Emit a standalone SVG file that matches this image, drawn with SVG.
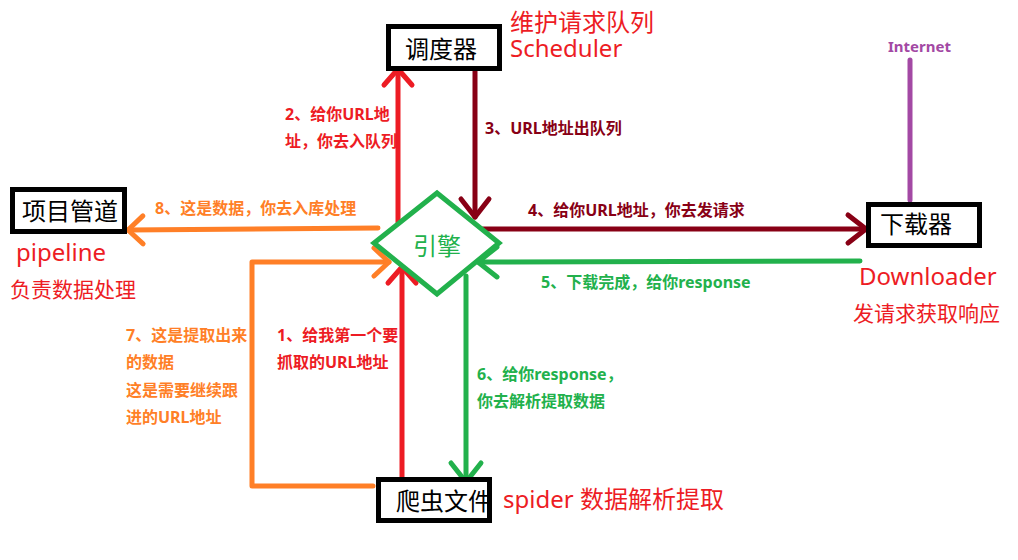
<svg xmlns="http://www.w3.org/2000/svg" width="1018" height="560" viewBox="0 0 1018 560">
<style>
.box{fill:#fff;stroke:#000;stroke-width:5}
.nt{font-family:"Noto Sans","Noto Sans CJK SC",sans-serif;font-size:24px;fill:#000}
.big{font-family:"Noto Sans","Noto Sans CJK SC",sans-serif;font-size:24px;fill:#ED1C24}
.mid{font-family:"Noto Sans","Noto Sans CJK SC",sans-serif;font-size:21px;fill:#ED1C24}
.lb{font-family:"Noto Sans","Noto Sans CJK SC",sans-serif;font-size:16px;font-weight:bold}
.ln{fill:none;stroke-width:5;stroke-linecap:round;stroke-linejoin:round}
.red{stroke:#ED1C24}.dred{stroke:#880015}.org{stroke:#FF7F27}.grn{stroke:#22B14C}.pur{stroke:#A349A4}
.tred{fill:#ED1C24}.tdred{fill:#880015}.torg{fill:#FF7F27}.tgrn{fill:#22B14C}.tpur{fill:#A349A4}
</style>
<defs>
<marker id="aRed" markerUnits="userSpaceOnUse" viewBox="-20 -18 24 36" refX="0" refY="0" markerWidth="24" markerHeight="36" orient="auto" overflow="visible"><path d="M-16,-14 L0,0 L-16,14" fill="none" stroke="#ED1C24" stroke-width="5" stroke-linecap="round" stroke-linejoin="round"/></marker>
<marker id="aDred" markerUnits="userSpaceOnUse" viewBox="-20 -18 24 36" refX="0" refY="0" markerWidth="24" markerHeight="36" orient="auto" overflow="visible"><path d="M-18,-14 L0,0 L-18,14" fill="none" stroke="#880015" stroke-width="5" stroke-linecap="round" stroke-linejoin="round"/></marker>
<marker id="aOrg" markerUnits="userSpaceOnUse" viewBox="-20 -18 24 36" refX="0" refY="0" markerWidth="24" markerHeight="36" orient="auto" overflow="visible"><path d="M-15,-14 L0,0 L-15,14" fill="none" stroke="#FF7F27" stroke-width="5" stroke-linecap="round" stroke-linejoin="round"/></marker>
<marker id="aGrn" markerUnits="userSpaceOnUse" viewBox="-20 -18 24 36" refX="0" refY="0" markerWidth="24" markerHeight="36" orient="auto" overflow="visible"><path d="M-19,-15 L0,0 L-19,15" fill="none" stroke="#22B14C" stroke-width="5" stroke-linecap="round" stroke-linejoin="round"/></marker>
</defs>
<rect width="1018" height="560" fill="#fff"/>

<g id="connectors">
<line class="ln pur" x1="910" y1="60" x2="910" y2="200" stroke-width="4"/>
<line class="ln red" x1="398" y1="222" x2="398" y2="69" marker-end="url(#aRed)"/>
<line class="ln dred" x1="475" y1="70" x2="475" y2="217" marker-end="url(#aDred)"/>
<line class="ln dred" x1="483" y1="229" x2="866" y2="229" marker-end="url(#aDred)"/>
<line class="ln grn" x1="860" y1="261" x2="478" y2="262" marker-end="url(#aGrn)"/>
<line class="ln grn" x1="466" y1="276" x2="466" y2="482" marker-end="url(#aGrn)"/>
<line class="ln red" x1="402" y1="477" x2="402" y2="267" marker-end="url(#aRed)"/>
<line class="ln org" x1="378" y1="228" x2="128" y2="230" marker-end="url(#aOrg)"/>
<polyline class="ln org" points="373,486 252,486 252,262 389,262" marker-end="url(#aOrg)"/>
</g>

<g id="scheduler">
<rect class="box" x="388.5" y="26.5" width="111" height="42"/>
<text class="nt" x="405" y="58">调度器</text>
<text class="big" x="510" y="31">维护请求队列</text>
<text class="big" x="510" y="57">Scheduler</text>
</g>

<g id="pipeline">
<rect class="box" x="12.5" y="189.5" width="112" height="42"/>
<text class="nt" x="22" y="220">项目管道</text>
<text class="big" x="16" y="261">pipeline</text>
<text class="mid" x="10" y="297">负责数据处理</text>
</g>

<g id="engine">
<polygon points="437,193 499,243 437,294 374,243" fill="#fff" stroke="#22B14C" stroke-width="5" stroke-linejoin="miter"/>
<text class="nt" x="437" y="255" text-anchor="middle" fill="#22B14C" style="fill:#22B14C">引擎</text>
</g>

<g id="downloader">
<rect class="box" x="868.5" y="204.5" width="111" height="41"/>
<text class="nt" x="880" y="233">下载器</text>
<text class="big" x="859" y="285">Downloader</text>
<text class="mid" x="853" y="321">发请求获取响应</text>
</g>

<g id="internet">
<text class="lb tpur" x="888" y="52" style="font-size:15px">Internet</text>
</g>

<g id="spider">
<rect class="box" x="378.5" y="479.5" width="111" height="41"/>
<text class="nt" x="396" y="510">爬虫文件</text>
<text class="big" x="503" y="508">spider 数据解析提取</text>
</g>

<g id="labels">
<text class="lb tred" x="285" y="120">2、给你URL地</text>
<text class="lb tred" x="285" y="147">址，你去入队列</text>
<text class="lb tdred" x="485" y="134">3、URL地址出队列</text>
<text class="lb torg" x="155" y="214">8、这是数据，你去入库处理</text>
<text class="lb tdred" x="528" y="216">4、给你URL地址，你去发请求</text>
<text class="lb tgrn" x="541" y="288">5、下载完成，给你response</text>
<text class="lb torg" x="126" y="341">7、这是提取出来</text>
<text class="lb torg" x="126" y="368">的数据</text>
<text class="lb torg" x="126" y="396">这是需要继续跟</text>
<text class="lb torg" x="126" y="423">进的URL地址</text>
<text class="lb tred" x="277" y="341">1、给我第一个要</text>
<text class="lb tred" x="277" y="368">抓取的URL地址</text>
<text class="lb tgrn" x="477" y="380">6、给你response，</text>
<text class="lb tgrn" x="477" y="407">你去解析提取数据</text>
</g>
</svg>
